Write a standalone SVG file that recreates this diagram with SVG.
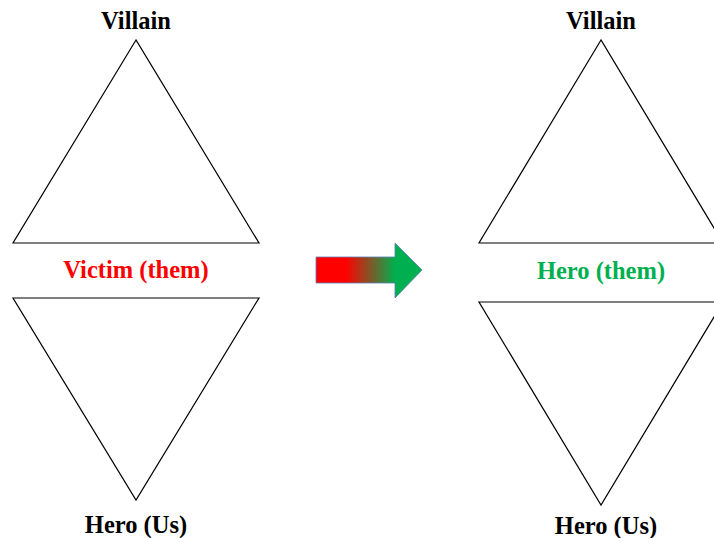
<svg xmlns="http://www.w3.org/2000/svg" width="714" height="538" viewBox="0 0 714 538">
  <style>
    .tri { fill: none; stroke: #000; stroke-width: 1.2; }
    .lbl { font-family: "Liberation Serif", "Times New Roman", serif; font-weight: bold; font-size: 24.5px; text-anchor: middle; }
    .dark { fill: #000; }
    .red { fill: #FF0000; }
    .green { fill: #00B050; }
  </style>
  <defs>
    <linearGradient id="shift" x1="316" y1="0" x2="422" y2="0" gradientUnits="userSpaceOnUse">
      <stop offset="0.28" stop-color="#FF0000"/>
      <stop offset="0.75" stop-color="#00B050"/>
    </linearGradient>
  </defs>
  <rect width="714" height="538" fill="#fff"/>

  <!-- before: left pair of triangles -->
  <g id="left-villain">
    <polygon class="tri" points="136,40 13,243 259,243"/>
    <text class="lbl dark" x="136" y="29">Villain</text>
  </g>
  <g id="left-victim">
    <text class="lbl red" x="136" y="278">Victim (them)</text>
  </g>
  <g id="left-hero">
    <polygon class="tri" points="13,298 259,298 136,500"/>
    <text class="lbl dark" x="136" y="533">Hero (Us)</text>
  </g>

  <!-- transition arrow -->
  <g id="connectors">
    <polygon points="316,257 395,257 395,243 422,270 395,298 395,283 316,283" fill="url(#shift)" stroke="#5B7FB8" stroke-width="0.8"/>
  </g>

  <!-- after: right pair of triangles -->
  <g id="right-villain">
    <polygon class="tri" points="601,40 479,243 723,243"/>
    <text class="lbl dark" x="601" y="29">Villain</text>
  </g>
  <g id="right-hero-them">
    <text class="lbl green" x="601" y="279">Hero (them)</text>
  </g>
  <g id="right-hero">
    <polygon class="tri" points="479,302 723,302 601,505"/>
    <text class="lbl dark" x="606" y="534">Hero (Us)</text>
  </g>
</svg>
